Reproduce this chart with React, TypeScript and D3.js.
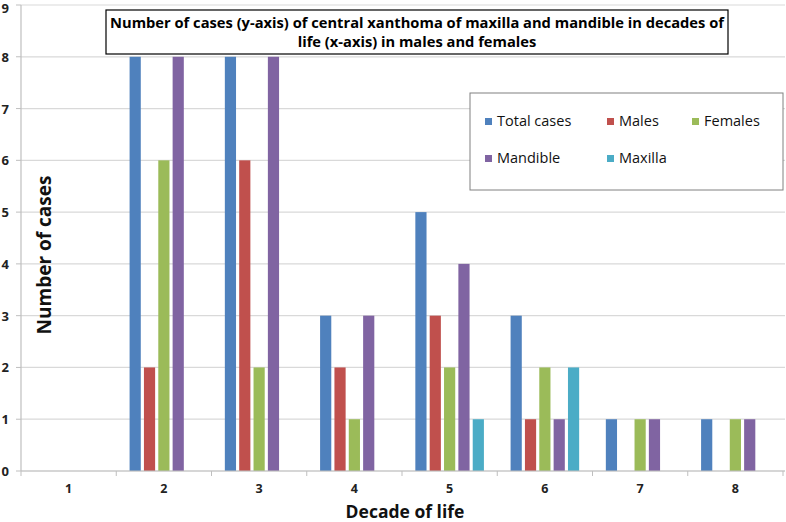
import * as d3 from "d3";

const decades = ["1", "2", "3", "4", "5", "6", "7", "8"];
const seriesNames = ["Total cases", "Males", "Females", "Mandible", "Maxilla"];
const seriesColors = ["#4F81BD", "#C0504D", "#9BBB59", "#8064A2", "#4BACC6"];
const totalCases = [0, 8, 8, 3, 5, 3, 1, 1];
const males = [0, 2, 6, 2, 3, 1, 0, 0];
const females = [0, 6, 2, 1, 2, 2, 1, 1];
const mandible = [0, 8, 8, 3, 4, 1, 1, 1];
const maxilla = [0, 0, 0, 0, 1, 2, 0, 0];
const yTicks = [0, 1, 2, 3, 4, 5, 6, 7, 8, 9];
const titleLines = [
  "Number of cases (y-axis) of central xanthoma of maxilla and mandible in decades of",
  "life (x-axis) in males and females",
];

const seriesValues = [totalCases, males, females, mandible, maxilla];

const W = 786;
const H = 522;
const font = "'Open Sans', 'Noto Sans', sans-serif";

export default function App() {
  const left = 21;
  const right = 783;
  const top = 5;
  const bottom = 471;

  const x0 = d3.scaleBand<string>().domain(decades).range([left, right]).padding(0);
  const x1 = d3
    .scaleBand<string>()
    .domain(seriesNames)
    .range([0, x0.bandwidth()])
    .paddingInner(0.22)
    .paddingOuter(0.93);
  const y = d3.scaleLinear().domain([0, 9]).range([bottom, top]);

  // legend: 3 items on the first row, 2 on the second
  const legendCols = [485, 607, 692];
  const legendRows = [118, 155];

  return (
    <svg
      width={W}
      height={H}
      style={{ position: "absolute", left: 0, top: 0, background: "#fff" }}
      fontFamily={font}
    >
      {/* gridlines */}
      {yTicks.map((t) => (
        <line
          key={"g" + t}
          x1={left}
          x2={785}
          y1={y(t)}
          y2={y(t)}
          stroke="#D9D9D9"
          strokeWidth={1.2}
        />
      ))}
      {/* y axis */}
      <line x1={left} x2={left} y1={top} y2={bottom} stroke="#BFBFBF" strokeWidth={1.2} />
      {yTicks.map((t) => (
        <g key={"yt" + t}>
          <line x1={left - 5} x2={left} y1={y(t)} y2={y(t)} stroke="#BFBFBF" />
          <text
            x={9}
            y={Math.max(y(t), 8)}
            textAnchor="end"
            dominantBaseline="central"
            fontSize={13}
            fontWeight="bold"
            fill="#222"
          >
            {t}
          </text>
        </g>
      ))}

      {/* bars */}
      {decades.map((d, i) => (
        <g key={"c" + d} transform={`translate(${x0(d)},0)`}>
          {seriesNames.map((s, j) => {
            const v = seriesValues[j][i];
            if (!v) return null;
            return (
              <rect
                key={s}
                x={x1(s)}
                y={y(v)}
                width={x1.bandwidth()}
                height={y(0) - y(v)}
                fill={seriesColors[j]}
              />
            );
          })}
        </g>
      ))}

      {/* x axis */}
      <line x1={left} x2={785} y1={bottom} y2={bottom} stroke="#BFBFBF" strokeWidth={1.2} />
      {decades.map((d) => (
        <line
          key={"xt" + d}
          x1={x0(d)}
          x2={x0(d)}
          y1={bottom}
          y2={bottom + 5}
          stroke="#BFBFBF"
        />
      ))}
      <line x1={right} x2={right} y1={bottom} y2={bottom + 5} stroke="#BFBFBF" />
      {decades.map((d) => (
        <text
          key={"xl" + d}
          x={(x0(d) as number) + x0.bandwidth() / 2}
          y={493}
          textAnchor="middle"
          fontSize={12.5}
          fontWeight="bold"
          fill="#222"
        >
          {d}
        </text>
      ))}

      {/* axis titles */}
      <text x={405} y={518} textAnchor="middle" fontSize={17.5} fontWeight="bold" fill="#111">
        Decade of life
      </text>
      <text
        transform="translate(51,255) rotate(-90)"
        textAnchor="middle"
        fontSize={19}
        fontWeight="bold"
        fill="#111"
      >
        Number of cases
      </text>

      {/* title box */}
      <rect x={106} y={10} width={622} height={44} fill="#fff" stroke="#000" strokeWidth={1.2} />
      {titleLines.map((line, i) => (
        <text
          key={"t" + i}
          x={417}
          y={28 + i * 19}
          textAnchor="middle"
          fontSize={14.7}
          fontWeight="bold"
          fill="#000"
        >
          {line}
        </text>
      ))}

      {/* legend */}
      <rect x={470} y={93} width={313} height={97} fill="#fff" stroke="#808080" strokeWidth={1} />
      {seriesNames.map((s, j) => {
        const col = j % 3;
        const row = Math.floor(j / 3);
        const lx = legendCols[col];
        const ly = legendRows[row];
        return (
          <g key={"l" + s}>
            <rect x={lx} y={ly} width={7} height={7} fill={seriesColors[j]} />
            <text x={lx + 12} y={ly + 8} fontSize={14.5} fill="#111">
              {s}
            </text>
          </g>
        );
      })}
    </svg>
  );
}
